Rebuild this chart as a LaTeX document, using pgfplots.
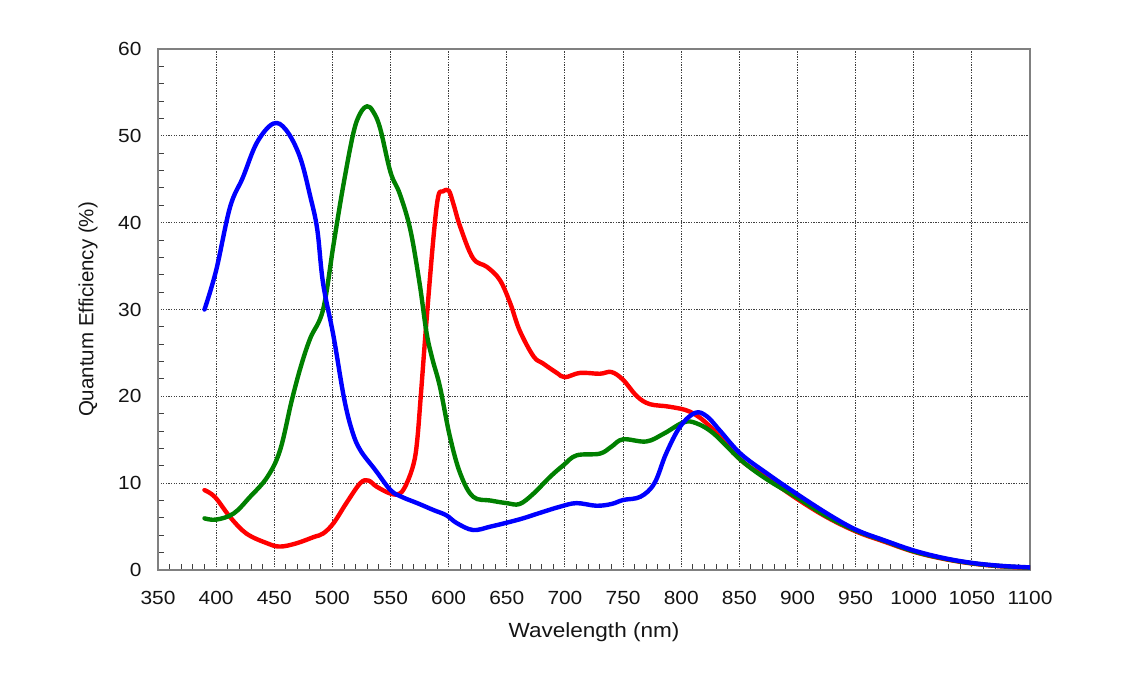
\documentclass[border=0pt]{standalone}
\usepackage{fontspec}
\setmainfont[FakeStretch=1.1]{Liberation Sans}
\newfontfamily\ylabfont{Liberation Sans}
\usepackage{pgfplots}
\pgfplotsset{compat=1.18}
\definecolor{qblue}{RGB}{0,0,255}
\definecolor{qgreen}{RGB}{0,128,0}
\definecolor{qred}{RGB}{255,0,0}
\begin{document}
\begin{tikzpicture}
\begin{axis}[
  scale only axis, width=872pt, height=521pt,
  xmin=350, xmax=1100, ymin=0, ymax=60,
  xtick={350,400,...,1100}, ytick={0,10,...,60},
  minor x tick num=4, minor y tick num=4,
  tick pos=left, tick align=inside,
  major tick length=0pt, minor tick length=6pt,
  tick style={black!75, line width=1pt},
  grid=major,
  major grid style={black!75, line width=1pt, dash pattern=on 1.3pt off 1.3pt},
  axis line style={black!50, line width=1.6pt},
  /pgf/number format/assume math mode=true,
  /pgf/number format/set thousands separator={},
  ticklabel style={font=\fontsize{19}{20}\selectfont, text=black!92},
  xticklabel style={yshift=-18pt},
  yticklabel style={xshift=-13pt},
  xlabel={Wavelength (nm)},
  ylabel={\ylabfont Quantum Efficiency (\%)},
  label style={font=\fontsize{20.5}{22}\selectfont, text=black!92},
  xlabel style={at={(rel axis cs:0.5,0)}, anchor=center, yshift=-62pt},
  ylabel style={at={(rel axis cs:0,0.5)}, anchor=center, rotate=0, yshift=70pt},
  every axis plot/.append style={line width=4.4pt, smooth, tension=0.6, no markers, line join=round, line cap=round},
]
% red
\addplot[qred] coordinates {
(390,9.2) (399,8.4) (412,6.1) (426,4.2) (444,3.07) (455,2.7) (469,3.07)
(484,3.8) (492,4.2) (501,5.4) (512,7.7) (524,10.0) (531,10.3) (538,9.6)
(550,8.8) (558,8.8) (564,10.0) (570,12.3) (573,15.0) (576,20.0) (581,28.8)
(587,38.4) (591,43.0) (595,43.6) (600,43.7) (604,42.2) (610,39.5) (621,35.9)
(633,34.9) (644,33.4) (653,30.7) (661,27.6) (673,24.6) (681,23.8) (693,22.7)
(700,22.2) (713,22.7) (730,22.6) (740,22.8) (750,21.9) (762,20.0) (773,19.1)
(790,18.8) (808,18.2) (825,16.5) (851,12.7) (874,10.6) (899,8.25) (925,6.1)
(951,4.4) (975,3.25) (1000,2.1) (1025,1.3) (1050,0.75) (1075,0.42) (1100,0.25)
};
% green
\addplot[qgreen] coordinates {
(390,5.95) (400,5.8) (415,6.5) (429,8.4) (444,10.7) (455,13.8) (465,19.5)
(473,23.5) (481,26.7) (492,30.0) (501,37.5) (509,44.0) (518,50.3) (524,52.6)
(530,53.4) (535,52.8) (541,50.9) (550,45.8) (558,43.3) (567,39.2) (575,33.0)
(581,27.3) (586,24.3) (592.5,21.1) (601,15.4) (610,11.1) (621,8.44) (636,8.0)
(650,7.7) (661,7.6) (673,8.8) (687,10.7) (699,12.1) (710,13.2) (730,13.4)
(740,14.2) (750,15.05) (770,14.8) (785,15.7) (802,17.0) (813,16.9) (828,15.7)
(851,12.7) (873,10.5) (899,8.4) (925,6.2) (951,4.5) (975,3.35) (1000,2.15)
(1025,1.35) (1050,0.78) (1075,0.45) (1100,0.27)
};
% blue
\addplot[qblue] coordinates {
(390,30.0) (400,34.5) (412,41.8) (423,45.2) (435,49.2) (449,51.4) (460,50.7)
(472,47.6) (481,43.0) (487,39.2) (492,33.0) (501,26.9) (510,19.8) (517,16.0)
(524,13.8) (537,11.5) (550,9.2) (560,8.4) (573,7.7) (587,6.9) (598,6.3)
(607,5.4) (621,4.6) (636,5.0) (650,5.45) (664,5.95) (679,6.6) (696,7.3)
(710,7.7) (727,7.4) (740,7.6) (750,8.06) (765,8.44) (777,10.0) (787,13.4)
(799,16.5) (812,18.1) (822,17.7) (833,16.1) (851,13.4) (874,11.1) (899,8.8)
(928,6.3) (951,4.6) (974,3.45) (1000,2.25) (1025,1.4) (1050,0.82) (1075,0.48) (1100,0.3)
};
\end{axis}
\path (current axis.south west) ++(-158pt,-106pt) coordinate (bbA);
\path (current axis.north east) ++(93pt,49pt) coordinate (bbB);
\path (bbA) rectangle (bbB);
\end{tikzpicture}
\end{document}
